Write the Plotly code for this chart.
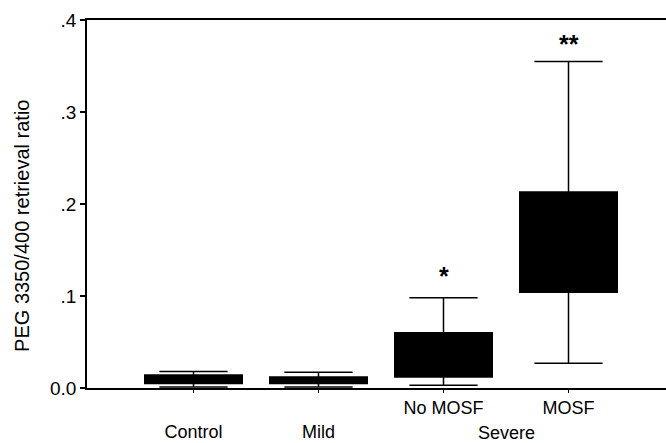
import plotly.graph_objects as go

# Data
groups = ["Control", "Mild", "No MOSF", "MOSF"]
group_pos = [1, 2, 3, 4]
tick_labels = ["<br>Control", "<br>Mild", "No MOSF", "MOSF"]
lower_fence = [0.001, 0.001, 0.003, 0.027]
q1 = [0.005, 0.005, 0.012, 0.104]
median = [0.009, 0.008, 0.030, 0.150]
q3 = [0.014, 0.012, 0.060, 0.213]
upper_fence = [0.018, 0.017, 0.098, 0.355]
sig_marks = ["", "", "*", "**"]
sig_y = [None, None, 0.122, 0.374]
y_ticks = [0.0, 0.1, 0.2, 0.3, 0.4]
y_tick_labels = ["0.0", ".1", ".2", ".3", ".4"]

FONT = "Liberation Sans, Arial, sans-serif"

fig = go.Figure()
fig.add_trace(go.Box(
    x=group_pos,
    q1=q1, median=median, q3=q3,
    lowerfence=lower_fence, upperfence=upper_fence,
    fillcolor="black",
    line=dict(color="black", width=1.5),
    width=0.78,
    whiskerwidth=0.7,
    boxpoints=False,
    showlegend=False,
    hoverinfo="skip",
))

for xp, m, yv in zip(group_pos, sig_marks, sig_y):
    if m:
        fig.add_annotation(x=xp, y=yv, text="<b>" + m + "</b>", showarrow=False,
                           font=dict(family=FONT, size=25, color="black"))

fig.add_annotation(x=3.5, y=0.0, yshift=-45, text="Severe", showarrow=False,
                   font=dict(family=FONT, size=18, color="black"))

fig.add_annotation(xref="paper", yref="paper", x=-0.135, y=0.44,
                   text="PEG 3350/400 retrieval ratio", textangle=-90,
                   showarrow=False,
                   font=dict(family=FONT, size=20, color="black"))

fig.update_layout(
    width=666, height=443,
    margin=dict(l=87, r=0, t=20, b=55),
    plot_bgcolor="white", paper_bgcolor="white",
    font=dict(family=FONT, color="black"),
    xaxis=dict(
        range=[0.148, 4.78],
        tickmode="array", tickvals=group_pos, ticktext=tick_labels,
        ticks="outside", ticklen=3, tickcolor="black",
        showline=True, linecolor="black", linewidth=1.5,
        mirror=True, showgrid=False, zeroline=False,
        tickfont=dict(family=FONT, size=18, color="black"),
    ),
    yaxis=dict(
        range=[0, 0.4],
        tickmode="array", tickvals=y_ticks, ticktext=y_tick_labels,
        ticks="outside", ticklen=5, tickcolor="black", tickwidth=1.5,
        showline=True, linecolor="black", linewidth=1.5,
        showgrid=False, zeroline=False,
        tickfont=dict(family=FONT, size=19, color="black"),
    ),
)

fig.write_html("out.html")
